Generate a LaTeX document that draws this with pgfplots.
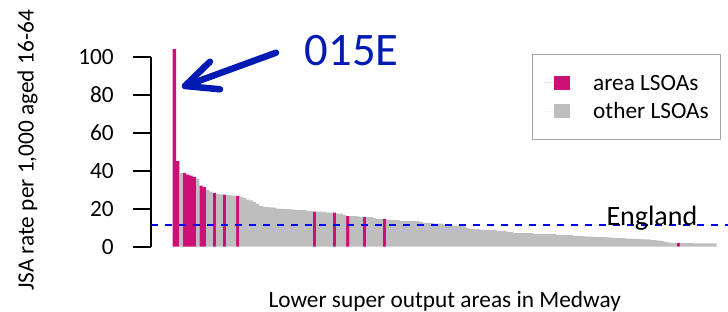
\documentclass[border=0pt]{standalone}
\usepackage{fontspec}
\setmainfont{Carlito}
\usepackage{pgfplots}
\pgfplotsset{compat=1.18}
\definecolor{areac}{RGB}{205,16,118}
\definecolor{otherc}{RGB}{190,190,190}
\definecolor{arrowc}{RGB}{0,26,180}
\definecolor{legbord}{RGB}{165,165,165}
\pgfplotsset{
  sqlegend/.style={legend image code/.code={%
    \path (-9.6pt,0pt) -- (16pt,0pt);
    \fill[##1] (0pt,-7pt) rectangle (16pt,7pt);}},
}
\newcommand{\basefont}{\fontsize{23.3}{28}\selectfont}
\begin{document}
\basefont
\begin{tikzpicture}
\useasboundingbox (0pt,0pt) rectangle (728pt,312pt);
\begin{axis}[
  at={(151pt,65.3pt)}, anchor=south west,
  scale only axis, width=577pt, height=190pt,
  xmin=-6.5, xmax=166.4, ymin=0, ymax=100,
  clip=false,
  axis lines*=left,
  x axis line style={draw=none},
  xtick=\empty,
  y axis line style={line width=1.8pt, black},
  ytick={0,20,40,60,80,100},
  tick align=outside, major tick length=18pt,
  ytick style={line width=1.8pt, black},
  /pgf/number format/assume math mode=true,
  yticklabel style={font=\basefont, inner xsep=0pt, xshift=-19pt},
  xlabel={Lower super output areas in Medway},
  ylabel={JSA rate per 1,000 aged 16-64},
  every axis x label/.style={at={(0.509,-0.32)}, anchor=base, font=\basefont},
  every axis y label/.style={at={(-0.2036,0.506)}, rotate=90, anchor=base, font=\basefont},
  legend cell align=left,
  legend style={
    at={(0.6598,1.0142)}, anchor=north west,
    draw=legbord, line width=1pt,
    inner xsep=11.7pt, inner ysep=21.05pt,
    row sep=13.8pt, column sep=23.7pt,
    font=\basefont,
    nodes={inner sep=0pt, text height=14.7pt, text depth=0pt},
  },
]
\addplot[ybar, bar width=1, bar shift=0pt, fill=areac, draw=none, sqlegend] coordinates {
(0.5,104) (1.5,45) (3.5,38.8) (4.5,37.9) (5.5,37.4) (6.5,36.8) (8.5,32.1) (9.5,31.4)
(12.5,28.3) (15.5,27.4) (19.5,26.7) (42.5,18.4) (48.5,17.9) (52.5,16.1) (57.5,15.6)
(63.5,14.6) (151.5,1.9)
};
\addlegendentry{area LSOAs}
\addplot[ybar, bar width=1, bar shift=0pt, fill=otherc, draw=none, sqlegend] coordinates {
(2.5,38.8) (7.5,35.8) (10.5,29.8) (11.5,29.0) (13.5,27.8) (14.5,27.6) (16.5,27.1)
(17.5,27.0) (18.5,26.9) (20.5,26.3) (21.5,25.6) (22.5,24.8) (23.5,24.4) (24.5,23.5)
(25.5,22.6) (26.5,21.4) (27.5,21.0) (28.5,20.8) (29.5,20.7) (30.5,20.6) (31.5,20.0)
(32.5,19.9) (33.5,19.8) (34.5,19.8) (35.5,19.7) (36.5,19.5) (37.5,19.3) (38.5,19.3)
(39.5,19.2) (40.5,18.9) (41.5,18.7) (43.5,18.4) (44.5,18.4) (45.5,18.3) (46.5,17.9)
(47.5,17.9) (49.5,17.4) (50.5,17.4) (51.5,16.7) (53.5,16.1) (54.5,16.1) (55.5,16.0)
(56.5,15.6) (58.5,15.6) (59.5,15.5) (60.5,15.1) (61.5,14.7) (62.5,14.6) (64.5,14.0)
(65.5,14.0) (66.5,14.0) (67.5,14.0) (68.5,13.5) (69.5,13.5) (70.5,13.5) (71.5,13.5)
(72.5,13.5) (73.5,13.5) (74.5,13.0) (75.5,12.5) (76.5,12.5) (77.5,12.5) (78.5,12.2)
(79.5,12.1) (80.5,12.1) (81.5,11.6) (82.5,11.5) (83.5,11.5) (84.5,10.9) (85.5,10.8)
(86.5,10.8) (87.5,10.7) (88.5,9.8) (89.5,9.3) (90.5,9.3) (91.5,9.3) (92.5,8.8)
(93.5,8.8) (94.5,8.8) (95.5,8.8) (96.5,8.8) (97.5,8.3) (98.5,8.3) (99.5,8.3)
(100.5,7.7) (101.5,7.7) (102.5,7.2) (103.5,7.2) (104.5,7.2) (105.5,7.2) (106.5,7.2)
(107.5,7.2) (108.5,6.7) (109.5,6.7) (110.5,6.7) (111.5,6.7) (112.5,6.7) (113.5,6.7)
(114.5,6.7) (115.5,6.2) (116.5,6.2) (117.5,6.2) (118.5,6.2) (119.5,6.2) (120.5,5.7)
(121.5,5.6) (122.5,5.5) (123.5,5.4) (124.5,5.3) (125.5,5.3) (126.5,5.2) (127.5,5.1)
(128.5,5.0) (129.5,5.0) (130.5,4.9) (131.5,4.8) (132.5,4.7) (133.5,4.6) (134.5,4.5)
(135.5,4.4) (136.5,4.3) (137.5,4.2) (138.5,4.1) (139.5,4.0) (140.5,4.0) (141.5,3.9)
(142.5,3.8) (143.5,3.6) (144.5,3.4) (145.5,3.2) (146.5,3.0) (147.5,2.7) (148.5,2.3)
(149.5,2.0) (150.5,1.9) (152.5,1.9) (153.5,1.9) (154.5,1.9) (155.5,1.9) (156.5,1.8)
(157.5,1.8) (158.5,1.8) (159.5,1.8) (160.5,1.8) (161.5,1.8) (162.5,1.8)
};
\addlegendentry{other LSOAs}
\addplot[sharp plot, blue, line width=2pt, dash pattern=on 7pt off 7pt, forget plot]
  coordinates {(-6.5,11.2) (166.4,11.2)};
\node[anchor=base, font=\fontsize{28}{34}\selectfont] at (axis cs:143.6,11.05) {England};
\node[anchor=base, text=arrowc, font=\fontsize{46.6}{56}\selectfont] at (axis cs:53.6,95.6) {015E};
\end{axis}
\draw[arrowc, line width=6.5pt, line cap=round, line join=round]
  (276pt,259.3pt) -- (185pt,226pt);
\draw[arrowc, line width=6.5pt, line cap=round, line join=round]
  (210pt,250.3pt) -- (185pt,226pt) -- (220pt,222.7pt);
\end{tikzpicture}
\end{document}
